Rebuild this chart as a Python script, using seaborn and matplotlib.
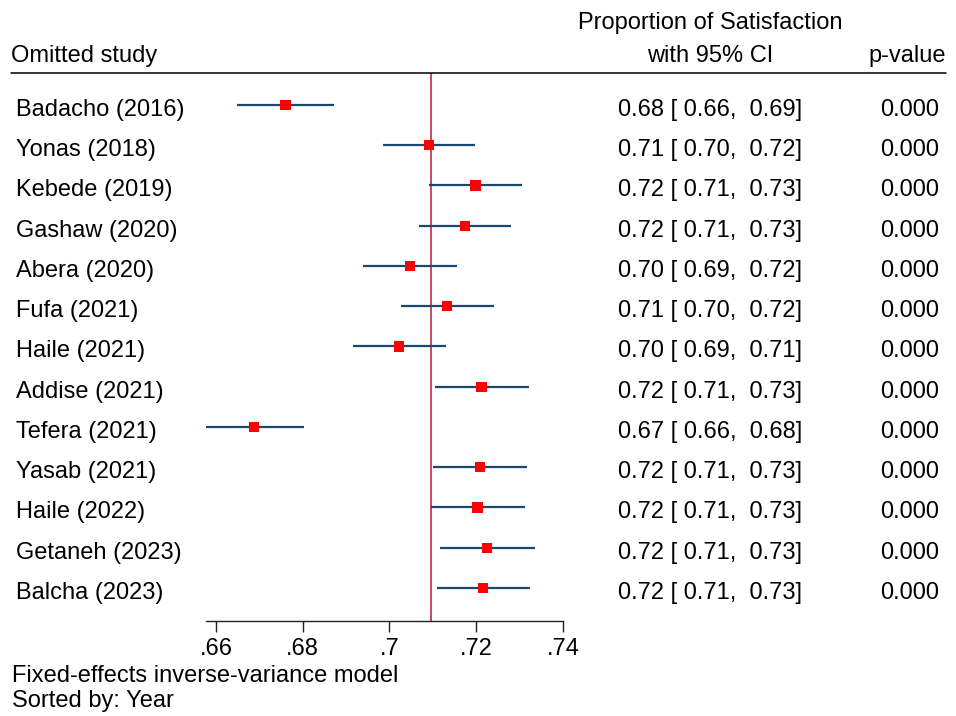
import matplotlib
matplotlib.use("Agg")
import matplotlib.pyplot as plt
from matplotlib.lines import Line2D
from matplotlib.transforms import blended_transform_factory, offset_copy
import seaborn as sns
import pandas as pd

# ---------------- data ----------------
studies = ["Badacho (2016)", "Yonas (2018)", "Kebede (2019)", "Gashaw (2020)",
           "Abera (2020)", "Fufa (2021)", "Haile (2021)", "Addise (2021)",
           "Tefera (2021)", "Yasab (2021)", "Haile (2022)", "Getaneh (2023)",
           "Balcha (2023)"]
estimates = [0.6760, 0.7091, 0.7198, 0.7174, 0.7047, 0.7133, 0.7022, 0.7212,
             0.6688, 0.7208, 0.7203, 0.7225, 0.7216]
ci_low = [0.6648, 0.6984, 0.7092, 0.7068, 0.6940, 0.7027, 0.6915, 0.7105,
          0.6575, 0.7100, 0.7095, 0.7116, 0.7109]
ci_high = [0.6872, 0.7198, 0.7306, 0.7281, 0.7155, 0.7240, 0.7131, 0.7321,
           0.6803, 0.7316, 0.7312, 0.7335, 0.7323]
p_values = [0.0] * 13
overall = 0.7096
xticks = [0.66, 0.68, 0.70, 0.72, 0.74]
xtick_labels = [".66", ".68", ".7", ".72", ".74"]

# ---------------- style ----------------
sns.set_theme(style="white")
plt.rcParams["font.family"] = ["Liberation Sans", "DejaVu Sans"]
plt.rcParams["text.color"] = "black"
FS = 17
W, H = 956, 716

fig = plt.figure(figsize=(W / 100, H / 100), dpi=100)
ax_left, ax_right, ax_top, ax_bottom = 206, 563, 72.7, 621
ax = fig.add_axes([ax_left / W, 1 - ax_bottom / H,
                   (ax_right - ax_left) / W, (ax_bottom - ax_top) / H])

df = pd.DataFrame({"study": studies, "est": estimates,
                   "lo": ci_low, "hi": ci_high, "p": p_values})
df["row"] = range(len(df))
n = len(df)

ax.hlines(df["row"], df["lo"], df["hi"], color="#1a476f", lw=1.6, zorder=2)
sns.scatterplot(data=df, x="est", y="row", marker="s", s=55, color="#ff0000",
                edgecolor="none", linewidth=0, ax=ax, zorder=3, legend=False)
ax.axvline(overall, color="#c0143c", lw=1.1, zorder=1)

ax.set_xlim(0.6577, 0.7400)
ax.set_ylim(n - 1 + 0.82, -0.80)
ax.set_yticks([])
ax.set_xticks(xticks)
ax.set_xticklabels(xtick_labels, fontsize=FS)
ax.tick_params(axis="x", bottom=True, direction="out", length=8, width=1,
               color="#222222", pad=4, labelcolor="black")
ax.set_xlabel("")
ax.set_ylabel("")
for s in ["top", "left", "right"]:
    ax.spines[s].set_visible(False)
ax.spines["bottom"].set_color("#222222")
ax.spines["bottom"].set_linewidth(1.0)
ax.patch.set_alpha(0)

# ---------------- text columns ----------------
tr = blended_transform_factory(fig.transFigure, ax.transData)
tr = offset_copy(tr, fig=fig, y=-11, units="dots")
for i, r in df.iterrows():
    fig.text(16 / W, r["row"], r["study"], transform=tr, ha="left",
             va="baseline", fontsize=FS, color="black")
    fig.text(710 / W, r["row"],
             f"{r['est']:.2f} [ {r['lo']:.2f},  {r['hi']:.2f}]",
             transform=tr, ha="center", va="baseline", fontsize=FS,
             color="black")
    fig.text(910 / W, r["row"], f"{r['p']:.3f}", transform=tr, ha="center",
             va="baseline", fontsize=FS, color="black")

# headers
def fy(py):
    return 1 - py / H

fig.text(11 / W, fy(62), "Omitted study", ha="left", va="baseline", fontsize=FS)
fig.text(710 / W, fy(29), "Proportion of Satisfaction", ha="center",
         va="baseline", fontsize=FS)
fig.text(710 / W, fy(62), "with 95% CI", ha="center", va="baseline",
         fontsize=FS)
fig.text(907 / W, fy(62), "p-value", ha="center", va="baseline", fontsize=FS)
fig.add_artist(Line2D([11 / W, 946 / W], [fy(72.7), fy(72.7)],
                      transform=fig.transFigure, color="black", lw=1.1))

# footnotes
fig.text(12 / W, fy(682), "Fixed-effects inverse-variance model", ha="left",
         va="baseline", fontsize=FS)
fig.text(12 / W, fy(707), "Sorted by: Year", ha="left", va="baseline",
         fontsize=FS)

fig.savefig("out.png", dpi=100, facecolor="white")
